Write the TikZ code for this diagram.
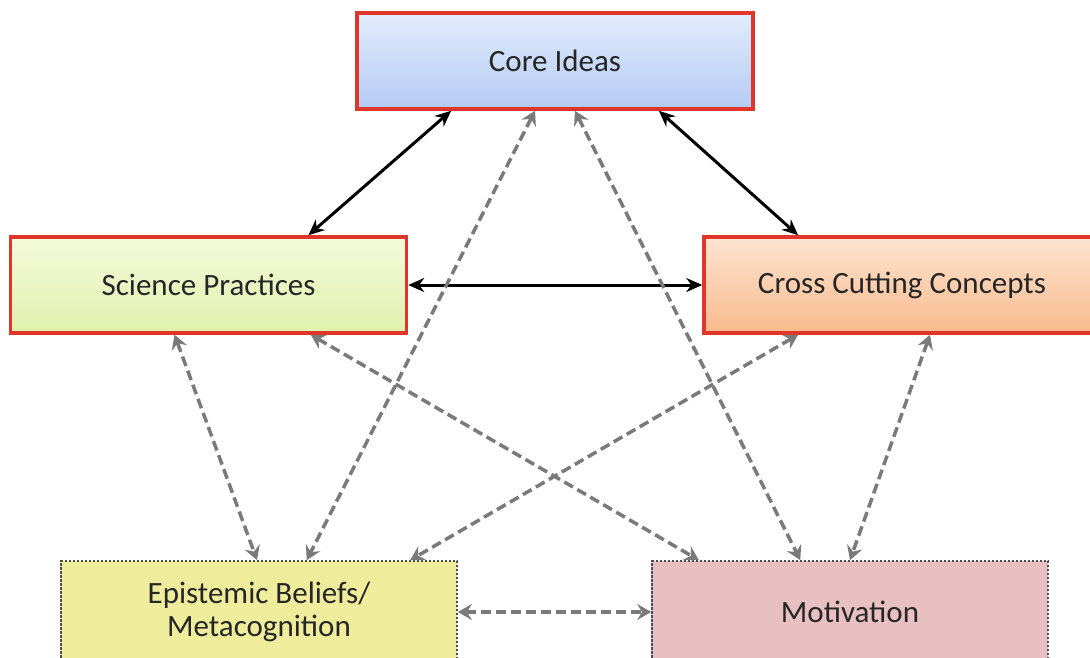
\documentclass[tikz,border=0pt]{standalone}
\usepackage{fontspec}
\setmainfont{Carlito}
\usetikzlibrary{arrows.meta,calc}

\definecolor{boxred}{HTML}{E0352A}
\definecolor{coretop}{HTML}{E3ECFC}
\definecolor{corebot}{HTML}{B3CBF4}
\definecolor{practop}{HTML}{F4FADB}
\definecolor{pracbot}{HTML}{E0F1AB}
\definecolor{crosstop}{HTML}{FDE4D1}
\definecolor{crossbot}{HTML}{F8BA8C}
\definecolor{epifill}{HTML}{EFEC9C}
\definecolor{motfill}{HTML}{E8C0C1}
\definecolor{linkgray}{HTML}{7A7A7A}

\begin{document}
\begin{tikzpicture}[x=1pt,y=-1pt,
  every node/.style={font=\fontsize{31}{33}\selectfont, text=black!85},
  mainbox/.style={draw=boxred, line width=3.5pt, minimum width=396pt, minimum height=96pt, inner sep=0pt},
  sidebox/.style={draw=black!70, line width=1.8pt, dash pattern=on 2.5pt off 1.5pt, minimum width=396pt, minimum height=102pt, inner sep=0pt, align=center},
  solidlink/.style={line width=3pt, black, {Stealth[length=16pt,width=14pt]}-{Stealth[length=16pt,width=14pt]}},
  dashlink/.style={line width=3.5pt, linkgray, dash pattern=on 10pt off 5pt, {Stealth[length=14pt,width=16pt,inset=5pt]}-{Stealth[length=14pt,width=16pt,inset=5pt]}}]
\useasboundingbox (0,0) rectangle (1090,657);
\clip (0,0) rectangle (1090,657);
\fill[white] (0,0) rectangle (1090,657);

\node[mainbox, top color=coretop, bottom color=corebot] (core) at (555,61) {Core Ideas};
\node[mainbox, top color=practop, bottom color=pracbot] (prac) at (208.5,285) {Science Practices};
\node[mainbox, top color=crosstop, bottom color=crossbot] (cross) at (902,285) {Cross Cutting Concepts};
\node[sidebox, fill=epifill] (epi) at (259,612) {Epistemic Beliefs/\\Metacognition};
\node[sidebox, fill=motfill] (mot) at (850,612) {Motivation};

\draw[solidlink] ($(core.south west)!0.24!(core.south east)$) -- ($(prac.north west)!0.75!(prac.north east)$);
\draw[solidlink] ($(core.south west)!0.76!(core.south east)$) -- ($(cross.north west)!0.24!(cross.north east)$);
\draw[solidlink] (prac.east) -- (cross.west);

\draw[dashlink] ($(core.south west)!0.45!(core.south east)$) -- ($(epi.north west)!0.62!(epi.north east)$);
\draw[dashlink] ($(core.south west)!0.55!(core.south east)$) -- ($(mot.north west)!0.375!(mot.north east)$);
\draw[dashlink] ($(prac.south west)!0.415!(prac.south east)$) -- ($(epi.north west)!0.495!(epi.north east)$);
\draw[dashlink] ($(prac.south west)!0.756!(prac.south east)$) -- ($(mot.north west)!0.12!(mot.north east)$);
\draw[dashlink] ($(cross.south west)!0.24!(cross.south east)$) -- ($(epi.north west)!0.88!(epi.north east)$);
\draw[dashlink] ($(cross.south west)!0.57!(cross.south east)$) -- ($(mot.north west)!0.5!(mot.north east)$);
\draw[dashlink] (epi.east) -- (mot.west);
\end{tikzpicture}
\end{document}
